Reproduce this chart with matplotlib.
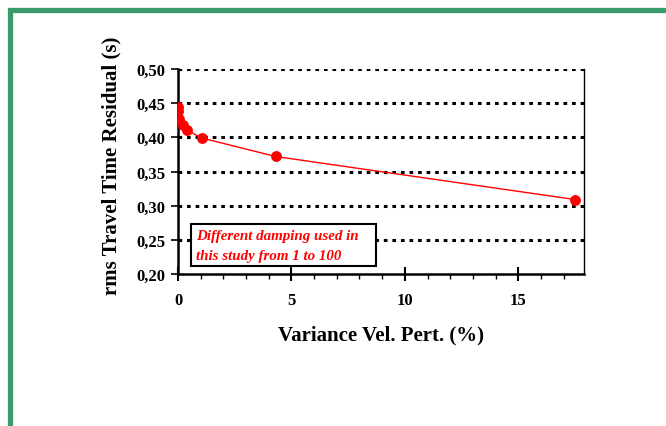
import matplotlib
matplotlib.use("Agg")
import matplotlib.pyplot as plt
from matplotlib.patches import Rectangle
from matplotlib.ticker import MultipleLocator, FuncFormatter

# valores
varianza = [0.0, 0.01, 0.05, 0.22, 0.38, 1.05, 4.3, 17.5]
rms = [0.444, 0.439, 0.427, 0.418, 0.411, 0.399, 0.372, 0.309]
yticks = [0.20, 0.25, 0.30, 0.35, 0.40, 0.45, 0.50]
xticks = [0, 5, 10, 15]

plt.rcParams["font.family"] = "Liberation Serif"
plt.rcParams["font.weight"] = "bold"

fig = plt.figure(figsize=(6.66, 4.27), dpi=100)

# marco verde de la diapositiva
fig.patches.append(Rectangle((9.8 / 666, -0.1), 1.2, 1 - 10.5 / 427 + 0.1,
                             transform=fig.transFigure, fill=False,
                             edgecolor="#3a9b6b", linewidth=3.8, zorder=0))

ax = fig.add_axes([0.2673, 0.356, 0.6096, 0.480])

for yv in yticks[1:]:
    ax.axhline(yv, color="black", linestyle=(0, (1.2, 1.6)), linewidth=2.2, zorder=1)

ax.plot(varianza, rms, "-o", color="#ff0000", linewidth=1.0, markersize=6.8, zorder=3)

ax.set_xlim(0, 17.9)
ax.set_ylim(0.20, 0.50)
ax.set_yticks(yticks)
ax.set_xticks(xticks)
ax.xaxis.set_minor_locator(MultipleLocator(1))
ax.yaxis.set_major_formatter(FuncFormatter(lambda v, p: f"{v:.2f}".replace(".", ",")))

ax.spines["top"].set_visible(False)
for s in ["left", "bottom"]:
    ax.spines[s].set_linewidth(1.8)
ax.spines["right"].set_linewidth(1.0)

ax.tick_params(axis="y", direction="out", length=5, width=1.2, labelsize=12, pad=4)
ax.tick_params(axis="x", which="major", direction="inout", length=10, width=1.5,
               labelsize=12, pad=8)
ax.tick_params(axis="x", which="minor", direction="out", length=3.5, width=1.0)

ax.set_xlabel("Variance Vel. Pert. (%)", fontsize=15, fontweight="bold", labelpad=12)
ax.set_ylabel("rms Travel Time Residual (s)", fontsize=15, fontweight="bold", labelpad=11)
ax.yaxis.label.set_y(0.535)

# recuadro de la nota
ax.add_patch(Rectangle((0.031, 0.040), 0.457, 0.204, transform=ax.transAxes,
                       facecolor="white", edgecolor="black", linewidth=1.5, zorder=4))
ax.text(0.044, 0.187, "Different damping used in", transform=ax.transAxes,
        color="#ff0000", fontsize=10.8, fontweight="bold", fontstyle="italic",
        va="center", ha="left", zorder=5)
ax.text(0.044, 0.089, "this study from 1 to 100", transform=ax.transAxes,
        color="#ff0000", fontsize=10.8, fontweight="bold", fontstyle="italic",
        va="center", ha="left", zorder=5)

fig.savefig("out.png", dpi=100)
